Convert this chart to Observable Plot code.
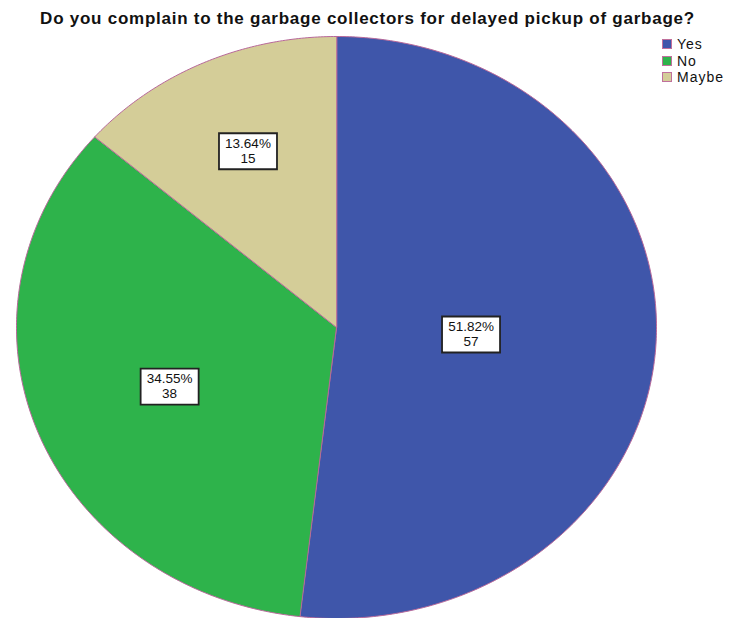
<!DOCTYPE html>
<html>
<head>
<meta charset="utf-8">
<script src="https://cdn.jsdelivr.net/npm/d3@7"></script>
<script src="https://cdn.jsdelivr.net/npm/@observablehq/plot@0.6"></script>
<style>
  html, body { margin: 0; padding: 0; background: #fff; }
  body { width: 729px; height: 618px; position: relative; overflow: hidden; font-family: "Liberation Sans", Arial, sans-serif; }
  #title { position: absolute; left: 0; top: 9px; width: 735px; text-align: center; font-weight: bold; font-size: 17px; line-height: 19px; letter-spacing: 0.75px; color: #111; white-space: nowrap; }
  #chart { position: absolute; left: 0; top: 30px; }
  #legend { position: absolute; left: 662px; top: 36px; }
  #legend .sw { display: flex; align-items: center; height: 16.5px; font-size: 14px; letter-spacing: 1px; color: #111; }
  #legend .sw span.box { width: 10px; height: 10px; border: 1px solid #c0709c; margin-right: 5px; box-sizing: border-box; }
</style>
</head>
<body>
<div id="title">Do you complain to the garbage collectors for delayed pickup of garbage?</div>
<div id="chart"></div>
<div id="legend"></div>
<script>
const categories = ["Yes", "No", "Maybe"];
const counts = [57, 38, 15];
const colors = ["#3f56aa", "#2eb34b", "#d4cd98"];

const total = d3.sum(counts);
const arcs = d3.pie().sort(null).value(d => d.count)(categories.map((c, i) => ({cat: c, count: counts[i]})));

// slice outlines as polygons in unit coordinates (y up)
const slicePts = [];
arcs.forEach(a => {
  const n = Math.max(2, Math.ceil((a.endAngle - a.startAngle) / 0.01));
  slicePts.push({cat: a.data.cat, x: 0, y: 0});
  for (let k = 0; k <= n; k++) {
    const t = a.startAngle + (a.endAngle - a.startAngle) * k / n;
    slicePts.push({cat: a.data.cat, x: Math.sin(t), y: Math.cos(t)});
  }
});

// labels near sector centroid
const labels = arcs.map(a => {
  const half = (a.endAngle - a.startAngle) / 2;
  const mid = a.startAngle + half;
  const r = (2 * Math.sin(half)) / (3 * half) * 1.03;
  const pct = (a.data.count / total * 100).toFixed(2);
  return {x: r * Math.sin(mid), y: r * Math.cos(mid), pct: `${pct}%`, n: String(a.data.count)};
});

const box = { draw(ctx) { ctx.rect(-29, -18, 58, 36); } };

const chart = Plot.plot({
  width: 729,
  height: 588,
  marginLeft: 16,
  marginRight: 73,
  marginTop: 6,
  marginBottom: 0,
  x: {domain: [-1, 1], axis: null},
  y: {domain: [-1, 1], axis: null},
  color: {domain: categories, range: colors},
  style: {background: "transparent", fontFamily: "Liberation Sans, Arial, sans-serif"},
  marks: [
    Plot.line(slicePts, {x: "x", y: "y", z: "cat", fill: "cat", stroke: "#b8689a", strokeWidth: 1, curve: "linear-closed"}),
    Plot.dot(labels, {x: "x", y: "y", symbol: box, r: 5, fill: "white", stroke: "#222", strokeWidth: 1.8}),
    Plot.text(labels, {x: "x", y: "y", text: "pct", dy: -7.5, fontSize: 13.5, fill: "#111"}),
    Plot.text(labels, {x: "x", y: "y", text: "n", dy: 7.5, fontSize: 13.5, fill: "#111"})
  ]
});
document.getElementById("chart").appendChild(chart);

const leg = document.getElementById("legend");
categories.forEach((c, i) => {
  const row = document.createElement("div");
  row.className = "sw";
  const b = document.createElement("span");
  b.className = "box";
  b.style.background = colors[i];
  row.appendChild(b);
  row.appendChild(document.createTextNode(c));
  leg.appendChild(row);
});
</script>
</body>
</html>
